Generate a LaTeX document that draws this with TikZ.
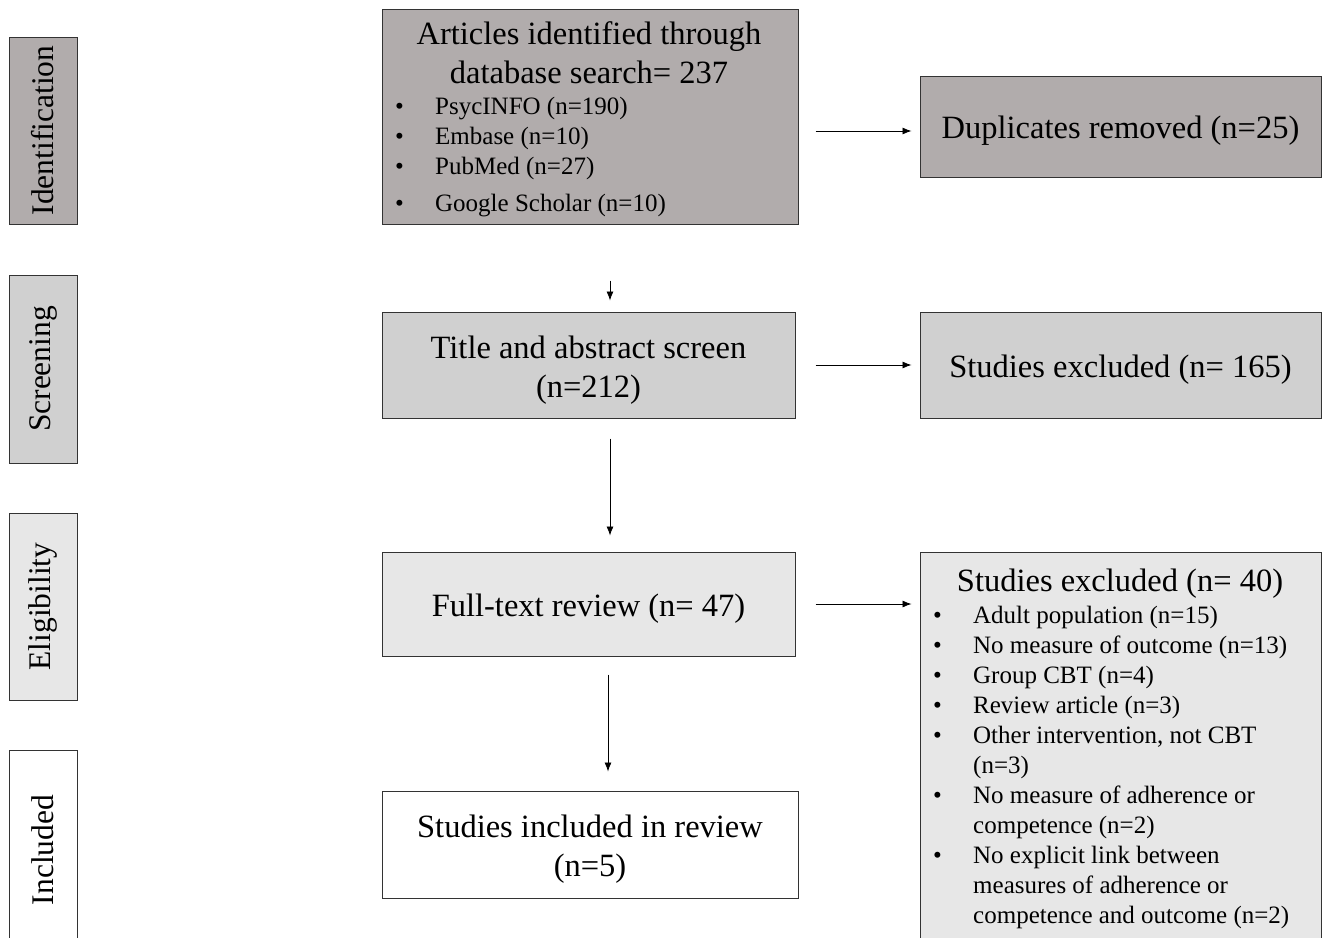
\documentclass[tikz,border=0pt]{standalone}
\usepackage{fontspec}
\setmainfont{Liberation Serif}
\usetikzlibrary{arrows.meta}
\definecolor{gdark}{RGB}{177,172,172}
\definecolor{gmid}{RGB}{208,208,208}
\definecolor{glight}{RGB}{231,231,231}
\newcommand{\flowbig}{\fontsize{32.5}{39}\selectfont}
\newcommand{\flowsmall}{\fontsize{25}{30}\selectfont}

\begin{document}
\begin{tikzpicture}[x = 1pt, y = -1pt,
		box/.style = {draw=black!80, line width=1pt, inner sep=0pt, align=center, font=\flowbig},
		low/.style = {execute at begin node={\rule{0pt}{31pt}}},
		side/.style = {box, rotate=90, minimum height=68pt, font=\fontsize{31.5}{39}\selectfont},
		arr/.style = {-{Latex[length=9pt, width=7pt]}, line width=0.8pt}]
		\useasboundingbox (0,0) rectangle (1327,937);
		\clip (0,0) rectangle (1327,937);
		% stage labels on the left
		\node[side, fill=gdark, minimum width=187pt] (ident) at (43,130.5) {Identification};
		\node[side, fill=gmid, minimum width=188pt] (screen) at (43,369) {Screening};
		\node[side, fill=glight, minimum width=187pt] (elig) at (43,606.5) {Eligibility};
		\node[side, fill=white, minimum width=200pt] (incl) at (43,850) {Included};
		% main column
		\node[box, fill=gdark, minimum width=416pt, minimum height=215pt] (articles) at (590,116.5) {};
		\node[font=\flowbig, align=center, anchor=base, inner sep=0pt] (arthead) at (589,83) {Articles identified through\\database search= 237};
		\node[font=\flowsmall, anchor=base west, inner sep=0pt] (artlist) at (395,114) {%
			\begin{tabular}[t]{@{}p{40pt}@{}l@{}}
				\textbullet & PsycINFO (n=190)\\
				\textbullet & Embase (n=10)\\
				\textbullet & PubMed (n=27)\\[7pt]
				\textbullet & Google Scholar (n=10)
			\end{tabular}};
		\node[box, fill=gmid, minimum width=413pt, minimum height=106pt] (title) at (588.5,365) {\begin{tabular}{@{}c@{}}\rule{0pt}{37pt}Title and abstract screen\\(n=212)\end{tabular}};
		\node[box, low, fill=glight, minimum width=413pt, minimum height=104pt] (full) at (588.5,604) {Full-text review (n= 47)};
		\node[box, fill=white, minimum width=416pt, minimum height=107pt] (studies) at (590,844.5) {\begin{tabular}{@{}c@{}}\rule{0pt}{37pt}Studies included in review\\(n=5)\end{tabular}};
		% exclusions on the right
		\node[box, low, fill=gdark, minimum width=401pt, minimum height=101pt] (dup) at (1120.5,126.5) {Duplicates removed (n=25)};
		\node[box, low, fill=gmid, minimum width=401pt, minimum height=106pt] (excla) at (1120.5,365) {Studies excluded (n= 165)};
		\node[box, fill=glight, minimum width=401pt, minimum height=400pt] (exclb) at (1120.5,752) {};
		\node[font=\flowbig, anchor=base, inner sep=0pt] (exclhead) at (1120,591) {Studies excluded (n= 40)};
		\node[font=\flowsmall, anchor=base west, inner sep=0pt] (excllist) at (933,623) {%
			\begin{tabular}[t]{@{}p{40pt}@{}l@{}}
				\textbullet & Adult population (n=15)\\
				\textbullet & No measure of outcome (n=13)\\
				\textbullet & Group CBT (n=4)\\
				\textbullet & Review article (n=3)\\
				\textbullet & Other intervention, not CBT\\
				& (n=3)\\
				\textbullet & No measure of adherence or\\
				& competence (n=2)\\
				\textbullet & No explicit link between\\
				& measures of adherence or\\
				& competence and outcome (n=2)
			\end{tabular}};
		% arrows
		\draw[arr, shorten <=17pt, shorten >=8pt] ([yshift=-4.5pt]articles.east |- dup.west) -- ([yshift=-4.5pt]dup.west);
		\draw[arr, shorten <=56pt, shorten >=11pt] ([xshift=20pt]articles.south) -- ([xshift=20pt]articles.south |- title.north);
		\draw[arr, shorten <=20pt, shorten >=8pt] (title.east) -- (excla.west);
		\draw[arr, shorten <=20pt, shorten >=16pt] ([xshift=21.5pt]title.south) -- ([xshift=21.5pt]full.north);
		\draw[arr, shorten <=20pt, shorten >=8pt] (full.east) -- (exclb.west |- full.east);
		\draw[arr, shorten <=18pt, shorten >=19pt] ([xshift=19.5pt]full.south) -- ([xshift=18pt]studies.north);
	\end{tikzpicture}
\end{document}
